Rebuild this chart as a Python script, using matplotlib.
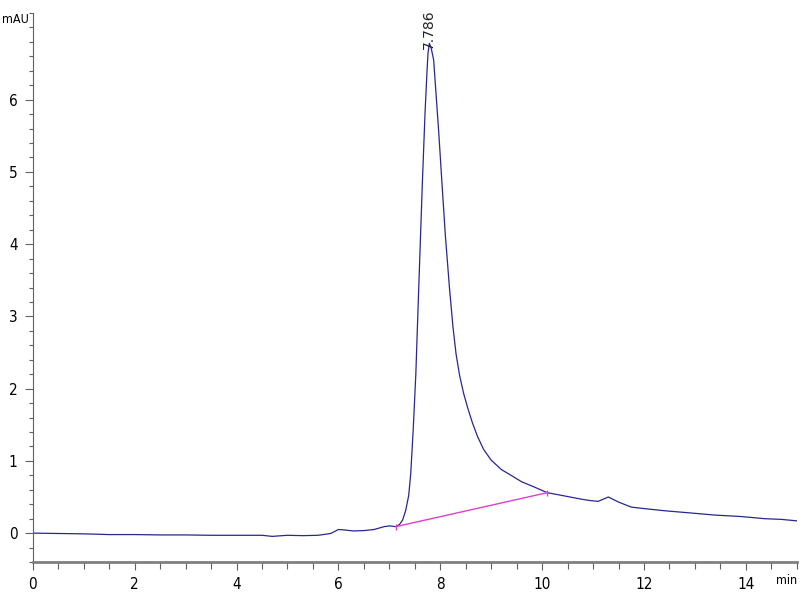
import matplotlib
matplotlib.use("Agg")
import matplotlib.pyplot as plt
from matplotlib.ticker import MultipleLocator, FixedLocator

# chromatogram trace (min, mAU)
times = [0, 0.5, 1.0, 1.5, 2.0, 2.5, 3.0, 3.5, 4.0, 4.5, 4.7, 5.0, 5.3, 5.6, 5.85,
         6.0, 6.1, 6.3, 6.5, 6.7, 6.9, 7.0, 7.13, 7.2, 7.26, 7.32, 7.38, 7.42,
         7.47, 7.52, 7.58, 7.65, 7.7, 7.74, 7.76, 7.786, 7.82, 7.87, 7.92, 7.97,
         8.03, 8.1, 8.18, 8.25, 8.31, 8.38, 8.46, 8.54, 8.63, 8.73, 8.85, 9.0,
         9.2, 9.39, 9.6, 9.84, 10.1, 10.4, 10.77, 10.95, 11.1, 11.3, 11.5, 11.75,
         12.0, 12.4, 12.9, 13.39, 13.9, 14.37, 14.7, 15.0]
signal = [0.0, -0.005, -0.01, -0.02, -0.02, -0.025, -0.025, -0.03, -0.03, -0.03,
          -0.045, -0.03, -0.035, -0.03, -0.005, 0.05, 0.045, 0.03, 0.035, 0.05,
          0.09, 0.1, 0.09, 0.12, 0.18, 0.31, 0.52, 0.82, 1.45, 2.2, 3.45, 4.88,
          5.8, 6.4, 6.65, 6.78, 6.72, 6.55, 6.05, 5.55, 4.88, 4.12, 3.4, 2.85,
          2.48, 2.18, 1.93, 1.73, 1.53, 1.34, 1.16, 1.01, 0.88, 0.8, 0.71, 0.64,
          0.56, 0.52, 0.47, 0.45, 0.44, 0.5, 0.43, 0.36, 0.34, 0.31, 0.28, 0.25,
          0.23, 0.2, 0.19, 0.17]

# integration baseline under the peak
base_t = [7.13, 10.1]
base_v = [0.09, 0.56]

peak_rt = 7.786
peak_label = "7.786"
y_labels = [0, 1, 2, 3, 4, 5, 6]

plt.rcParams["font.family"] = ["DejaVu Sans"]
plt.rcParams["font.stretch"] = "condensed"

fig = plt.figure(figsize=(8, 6), dpi=100)
ax = fig.add_axes([0.041, 0.0633, 0.955, 0.915])

ax.plot(times, signal, color="#27278f", lw=0.9)
ax.plot(base_t, base_v, color="#e040c8", lw=1.0, marker="|", ms=4)

ax.text(peak_rt, 6.7, peak_label, rotation=90, ha="center", va="bottom",
        fontsize=10, color="#222222", fontstretch="normal")

ax.set_xlim(0, 15)
ax.set_ylim(-0.4, 7.2)
ax.xaxis.set_major_locator(MultipleLocator(2))
ax.xaxis.set_minor_locator(MultipleLocator(0.5))
ax.yaxis.set_major_locator(FixedLocator(y_labels))
ax.yaxis.set_minor_locator(MultipleLocator(0.2))

ax.spines["top"].set_visible(False)
ax.spines["right"].set_visible(False)
ax.spines["bottom"].set_color("#808080")
ax.spines["bottom"].set_linewidth(2)
ax.spines["left"].set_color("#606060")
ax.spines["left"].set_linewidth(0.8)

ax.tick_params(axis="x", which="major", direction="out", length=6, width=0.8,
               color="#606060", labelsize=11, pad=5)
ax.tick_params(axis="x", which="minor", direction="out", length=5, width=0.8,
               color="#606060")
ax.tick_params(axis="y", which="major", direction="out", length=6, width=0.8,
               color="#606060", labelsize=11, pad=5)
ax.tick_params(axis="y", which="minor", direction="out", length=3, width=0.8,
               color="#606060")

fig.text(0.003, 0.968, "mAU", fontsize=9, ha="left", va="center")
fig.text(0.997, 0.033, "min", fontsize=9, ha="right", va="center")

fig.savefig("out.png", dpi=100)
